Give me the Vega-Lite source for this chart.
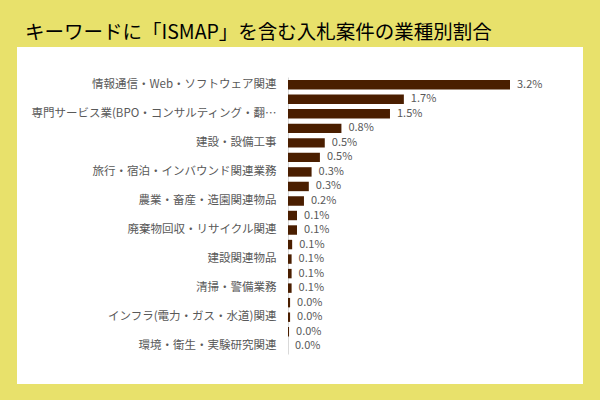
{
  "$schema": "https://vega.github.io/schema/vega-lite/v6.json",
  "width": 506,
  "height": 277,
  "autosize": {"type": "none"},
  "padding": {"left": 47, "top": 77, "right": 47, "bottom": 46},
  "background": "#E8E16B",
  "title": {
    "text": "キーワードに「ISMAP」を含む入札案件の業種別割合",
    "anchor": "start",
    "frame": "group",
    "fontSize": 19.5,
    "fontWeight": "normal",
    "color": "#000000",
    "dx": -22,
    "offset": 34
  },
  "data": {
    "values": [
      {"業種": "情報通信・Web・ソフトウェア関連", "割合": 0.032},
      {"業種": "情報機器・システム関連物品", "割合": 0.0167},
      {"業種": "専門サービス業(BPO・コンサルティング・翻訳等)", "割合": 0.0147},
      {"業種": "調査・研究業務", "割合": 0.0077},
      {"業種": "建設・設備工事", "割合": 0.0053},
      {"業種": "広告・イベント関連業務", "割合": 0.0046},
      {"業種": "旅行・宿泊・インバウンド関連業務", "割合": 0.0034},
      {"業種": "印刷・出版関連", "割合": 0.003},
      {"業種": "農業・畜産・造園関連物品", "割合": 0.0023},
      {"業種": "医療・福祉関連", "割合": 0.0013},
      {"業種": "廃棄物回収・リサイクル関連", "割合": 0.0013},
      {"業種": "教育・研修関連", "割合": 0.0006},
      {"業種": "建設関連物品", "割合": 0.00052},
      {"業種": "運輸・物流関連", "割合": 0.00052},
      {"業種": "清掃・警備業務", "割合": 0.00052},
      {"業種": "事務用品・什器", "割合": 0.0003},
      {"業種": "インフラ(電力・ガス・水道)関連", "割合": 0.0003},
      {"業種": "車両・船舶関連物品", "割合": 0.00015},
      {"業種": "環境・衛生・実験研究関連", "割合": 0}
    ]
  },
  "encoding": {
    "y": {
      "field": "業種",
      "type": "nominal",
      "sort": null,
      "scale": {"paddingInner": 0.35, "paddingOuter": 0.21},
      "axis": {
        "title": null,
        "orient": "left",
        "offset": -241,
        "domain": true,
        "domainColor": "#D9D9D9",
        "domainWidth": 1,
        "ticks": false,
        "labelPadding": 12,
        "labelFontSize": 11.5,
        "labelColor": "#595959",
        "labelLimit": 250,
        "values": [
          "情報通信・Web・ソフトウェア関連",
          "専門サービス業(BPO・コンサルティング・翻訳等)",
          "建設・設備工事",
          "旅行・宿泊・インバウンド関連業務",
          "農業・畜産・造園関連物品",
          "廃棄物回収・リサイクル関連",
          "建設関連物品",
          "清掃・警備業務",
          "インフラ(電力・ガス・水道)関連",
          "環境・衛生・実験研究関連"
        ]
      }
    },
    "x": {
      "field": "割合",
      "type": "quantitative",
      "scale": {"domain": [-0.034739, 0.038198], "nice": false},
      "axis": null
    }
  },
  "layer": [
    {
      "mark": {"type": "bar", "color": "#4A1E00"}
    },
    {
      "mark": {"type": "text", "align": "left", "baseline": "middle", "dx": 7, "fontSize": 11, "color": "#595959"},
      "encoding": {
        "text": {"field": "割合", "type": "quantitative", "format": ".1%"}
      }
    }
  ],
  "config": {
    "font": "Noto Sans CJK JP",
    "view": {"fill": "white", "stroke": "white", "strokeWidth": 60}
  }
}
